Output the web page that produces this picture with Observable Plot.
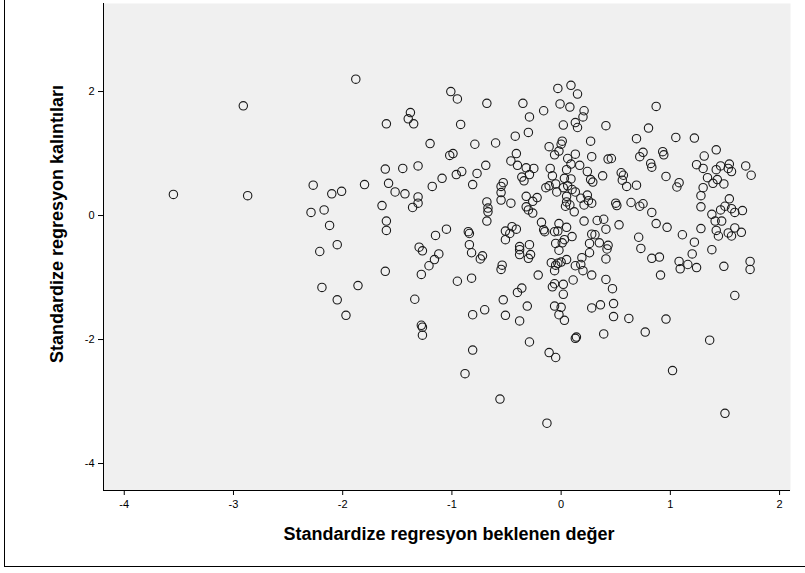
<!DOCTYPE html>
<html><head><meta charset="utf-8">
<script src="https://cdn.jsdelivr.net/npm/d3@7"></script>
<script src="https://cdn.jsdelivr.net/npm/@observablehq/plot@0.6"></script>
<style>
body{margin:0;background:#fff;}
#wrap{position:relative;width:805px;height:573px;overflow:hidden;}
#outer{position:absolute;left:4px;top:-2px;width:830px;height:569px;border-left:1px solid #000;border-bottom:1px solid #000;border-top:1px solid #000;box-sizing:border-box;pointer-events:none;}
</style></head>
<body><div id="wrap"><div id="chart"></div><div id="outer"></div></div>
<script>
const predicted = [
-2.91,-3.55,-2.87,-2.27,-2.29,-2.17,-1.88,-1.01,-0.95,-1.38,-1.40,-1.35,-1.60,-0.92,-1.20,-0.79,-1.02,-0.99,-1.61,-1.45,
-1.31,-1.09,-0.96,-0.91,-0.77,-0.81,-1.18,-1.80,-1.58,-1.52,-1.43,-1.31,-1.31,-1.36,-1.64,-2.10,-2.01,-0.68,-0.35,-0.03,
0.09,0.15,-0.16,-0.01,0.08,-0.29,0.21,0.20,0.02,0.13,0.15,0.41,-0.30,-0.42,-0.60,0.01,0.00,-0.11,-0.02,-0.06,
0.27,-0.41,-0.46,-0.40,-0.69,0.06,0.13,0.28,0.43,0.46,-0.32,-0.25,0.09,0.17,-0.10,0.05,0.24,-0.29,-0.36,-0.34,
-0.08,0.03,0.09,0.27,0.29,0.38,0.55,0.57,0.56,0.60,-0.53,-0.55,-0.55,-0.55,-0.68,-0.67,-0.67,-0.46,-0.14,-0.11,
-0.05,-0.04,0.02,0.06,0.13,0.10,-0.32,-0.22,-0.26,-0.32,-0.30,-0.26,0.05,0.05,0.08,0.04,0.12,0.18,0.24,0.25,
0.28,0.21,0.50,0.51,0.64,0.87,0.80,0.69,1.05,1.22,1.42,0.75,0.72,0.93,0.94,0.82,0.83,1.31,1.24,1.30,
1.46,1.54,1.53,1.56,1.42,1.69,1.74,0.96,1.34,1.43,1.39,1.49,1.08,1.06,0.69,1.30,1.28,1.28,1.54,0.75,
0.72,0.83,1.38,1.46,1.50,1.56,1.59,1.66,-2.21,-2.19,-2.12,-1.60,-1.60,-2.05,-1.15,-1.05,-0.85,-0.84,-0.84,-0.82,
-0.74,-0.72,-1.30,-1.27,-1.12,-1.16,-1.21,-1.28,-1.61,-0.95,-0.82,-1.86,-2.05,-1.97,-1.34,-0.81,-1.28,-1.27,-1.27,-0.68,
-0.18,-0.02,0.05,0.21,0.33,0.39,0.53,-0.51,-0.45,-0.41,-0.47,-0.51,-0.16,-0.15,-0.06,-0.03,0.10,0.03,0.01,-0.05,
-0.02,0.28,0.31,0.41,0.35,0.26,0.43,0.42,0.26,0.19,0.41,-0.38,-0.38,-0.29,-0.38,-0.28,-0.30,-0.54,-0.55,-0.09,
-0.03,-0.05,0.00,0.05,-0.06,0.13,0.18,0.20,-0.21,0.11,0.28,0.41,0.47,-0.06,-0.08,0.02,0.02,-0.36,-0.40,-0.53,
-0.70,-0.31,-0.06,0.00,-0.02,0.03,-0.51,-0.38,0.28,0.36,0.48,0.48,0.62,0.14,0.39,0.87,0.97,0.71,0.73,1.11,
1.28,1.41,1.47,1.42,1.44,1.53,1.56,1.59,1.65,1.22,1.38,1.20,0.83,0.90,1.08,1.09,1.16,1.24,1.49,1.73,
1.73,0.91,1.59,0.96,0.77,-0.81,-0.88,-0.29,-0.11,-0.05,0.13,-0.56,-0.13,1.36,1.02,1.50
];
const residual = [
1.77,0.34,0.32,0.49,0.05,0.09,2.20,2.00,1.88,1.66,1.56,1.48,1.48,1.47,1.16,1.15,0.97,1.00,0.75,0.76,
0.80,0.60,0.66,0.71,0.68,0.50,0.47,0.50,0.52,0.38,0.35,0.30,0.20,0.13,0.16,0.35,0.39,1.81,1.81,2.05,
2.10,1.96,1.69,1.80,1.75,1.59,1.69,1.59,1.46,1.50,1.42,1.45,1.34,1.28,1.17,1.20,1.15,1.11,1.04,0.98,
1.20,1.00,0.88,0.81,0.81,0.92,0.99,0.95,0.91,0.92,0.77,0.76,0.83,0.81,0.76,0.74,0.71,0.66,0.62,0.56,
0.64,0.60,0.59,0.58,0.54,0.64,0.69,0.65,0.57,0.47,0.53,0.47,0.37,0.25,0.22,0.12,0.06,0.20,0.45,0.48,
0.51,0.38,0.45,0.48,0.38,0.42,0.31,0.29,0.23,0.14,0.09,0.04,0.31,0.22,0.17,0.15,0.06,0.28,0.33,0.24,
0.20,0.17,0.20,0.16,0.21,1.76,1.41,1.24,1.26,1.25,1.06,1.02,0.95,1.03,0.98,0.84,0.78,0.96,0.82,0.76,
0.80,0.83,0.76,0.71,0.74,0.80,0.65,0.63,0.61,0.58,0.52,0.51,0.53,0.46,0.49,0.45,0.32,0.14,0.27,0.19,
0.15,0.05,0.02,0.09,0.15,0.11,0.05,0.08,-0.58,-1.16,-0.16,-0.09,-0.24,-0.47,-0.32,-0.22,-0.26,-0.29,-0.47,-0.60,
-0.70,-0.65,-0.51,-0.57,-0.62,-0.71,-0.81,-0.95,-0.90,-1.06,-1.01,-1.13,-1.36,-1.61,-1.35,-1.60,-1.77,-1.80,-1.93,-0.09,
-0.11,-0.13,-0.19,-0.09,-0.08,-0.06,-0.15,-0.25,-0.18,-0.22,-0.29,-0.39,-0.23,-0.26,-0.26,-0.25,-0.34,-0.39,-0.44,-0.45,
-0.56,-0.30,-0.31,-0.22,-0.44,-0.45,-0.48,-0.54,-0.60,-0.68,-0.70,-0.50,-0.55,-0.47,-0.63,-0.63,-0.69,-0.80,-0.87,-0.76,
-0.77,-0.80,-0.75,-0.71,-0.89,-0.81,-0.79,-0.89,-0.96,-1.04,-0.96,-1.03,-1.18,-1.10,-1.15,-1.11,-1.27,-1.17,-1.24,-1.36,
-1.52,-1.46,-1.46,-1.48,-1.60,-1.69,-1.61,-1.70,-1.49,-1.44,-1.42,-1.63,-1.66,-1.96,-1.91,-0.13,-0.19,-0.35,-0.53,-0.31,
-0.21,-0.09,-0.09,-0.24,-0.33,-0.28,-0.33,-0.20,-0.27,-0.43,-0.55,-0.62,-0.69,-0.67,-0.74,-0.86,-0.79,-0.84,-0.82,-0.74,
-0.87,-0.96,-1.29,-1.67,-1.88,-2.17,-2.55,-2.04,-2.21,-2.29,-1.98,-2.96,-3.35,-2.01,-2.50,-3.19
];
const xTicks = [-4, -3, -2, -1, 0, 1, 2];
const yTicks = [-4, -2, 0, 2];
const xTitle = "Standardize regresyon beklenen değer";
const yTitle = "Standardize regresyon kalıntıları";

const points = predicted.map((x, i) => ({x, y: residual[i]}));
const xDomain = [-4.19, 2.10];
const yDomain = [-4.435, 3.42];

const chart = Plot.plot({
  width: 805, height: 573,
  marginLeft: 103, marginRight: 15, marginTop: 3, marginBottom: 83,
  style: {fontFamily: "'Liberation Sans', Arial, sans-serif", fontSize: "11px", background: "transparent", color: "#000"},
  x: {domain: xDomain},
  y: {domain: yDomain},
  marks: [
    Plot.frame({fill: "#f0f0f0"}),
    Plot.ruleX([xDomain[0]], {stroke: "#000", strokeWidth: 1}),
    Plot.ruleY([yDomain[0]], {stroke: "#000", strokeWidth: 1}),
    Plot.axisX({ticks: xTicks, tickFormat: d => String(d), tickSize: 5, tickPadding: 5, label: null, fontSize: 11}),
    Plot.axisY({ticks: yTicks, tickFormat: d => String(d), tickSize: 5, tickPadding: 4, label: null, fontSize: 11}),
    Plot.dot(points, {x: "x", y: "y", r: 4.2, stroke: "#1a1a1a", strokeWidth: 1.1, fill: "none"}),
    Plot.text([xTitle], {frameAnchor: "bottom", dy: 49, dx: 2, fontSize: 18, fontWeight: "bold", fill: "#000"}),
    Plot.text([yTitle], {frameAnchor: "left", textAnchor: "middle", rotate: -90, dx: -46, dy: -23, fontSize: 18, fontWeight: "bold", fill: "#000"})
  ]
});
document.getElementById("chart").appendChild(chart);
</script></body></html>
